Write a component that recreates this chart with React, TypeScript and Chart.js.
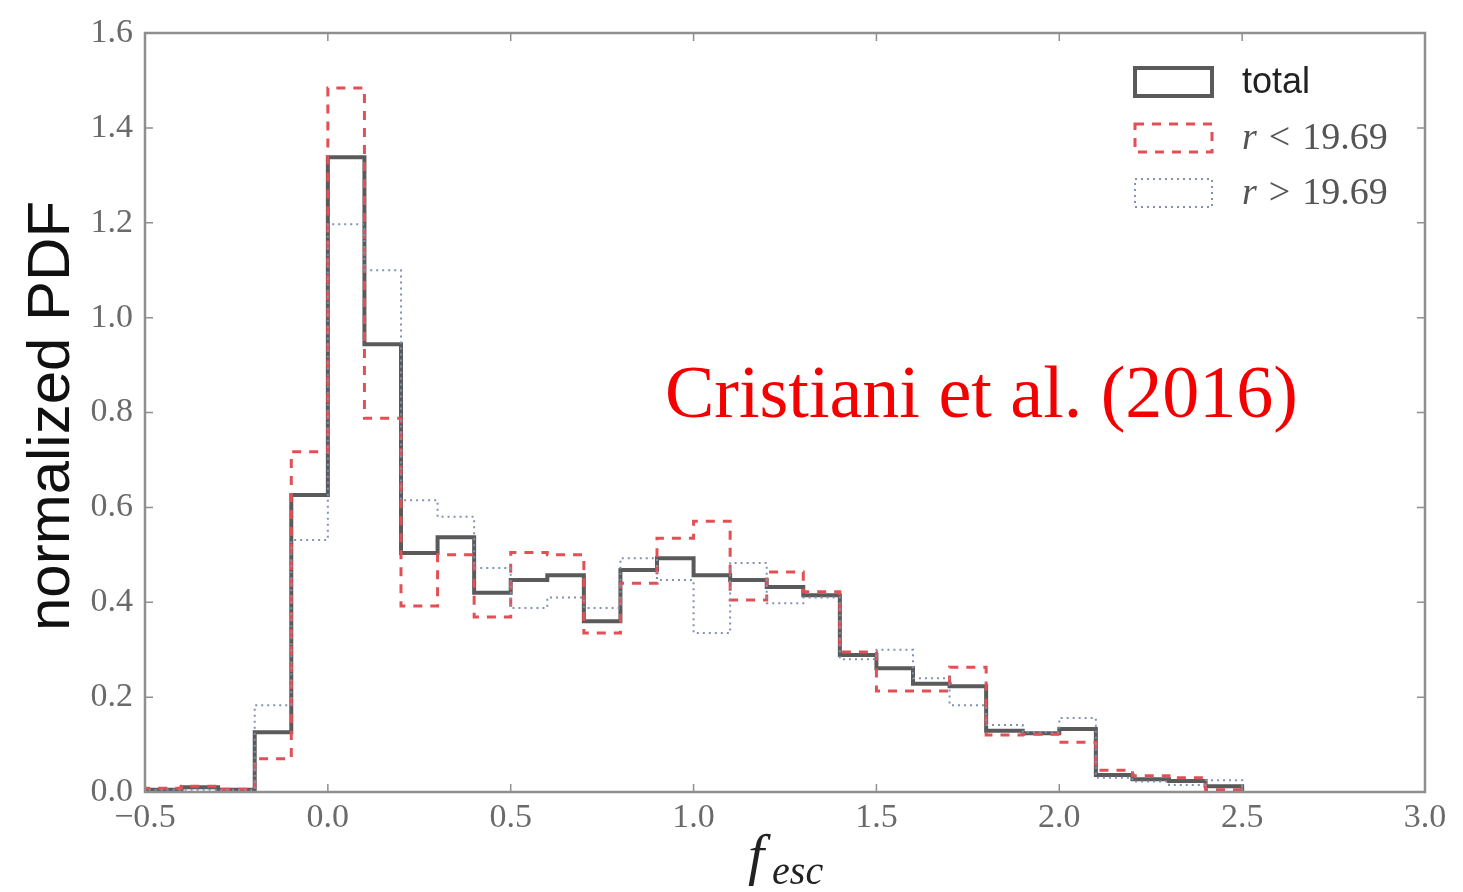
import React, { useEffect, useRef } from "react";
import { Chart, registerables } from "chart.js";

Chart.register(...registerables);

// Histogram bin edges (f_esc)
const binEdges = [
  -0.5, -0.4, -0.3, -0.2, -0.1, 0.0, 0.1, 0.2, 0.3, 0.4, 0.5, 0.6, 0.7, 0.8, 0.9,
  1.0, 1.1, 1.2, 1.3, 1.4, 1.5, 1.6, 1.7, 1.8, 1.9, 2.0, 2.1, 2.2, 2.3, 2.4, 2.5,
];

// Normalized PDF per bin
const totalValues = [
  0.005, 0.01, 0.005, 0.126, 0.626, 1.338, 0.944, 0.504, 0.537, 0.42, 0.447, 0.457,
  0.36, 0.468, 0.493, 0.457, 0.447, 0.432, 0.415, 0.289, 0.261, 0.228, 0.223, 0.129,
  0.124, 0.133, 0.036, 0.027, 0.023, 0.012,
];
const brightValues = [
  0.008, 0.012, 0.006, 0.07, 0.717, 1.484, 0.788, 0.392, 0.5, 0.369, 0.505, 0.5,
  0.335, 0.44, 0.535, 0.571, 0.405, 0.464, 0.422, 0.295, 0.213, 0.213, 0.263, 0.12,
  0.122, 0.105, 0.046, 0.034, 0.03, 0.005,
];
const faintValues = [
  0.005, 0.005, 0.004, 0.183, 0.531, 1.197, 1.1, 0.615, 0.58, 0.472, 0.388, 0.41,
  0.388, 0.493, 0.447, 0.335, 0.483, 0.398, 0.41, 0.28, 0.3, 0.24, 0.183, 0.141,
  0.126, 0.156, 0.03, 0.022, 0.015, 0.025,
];

const xTickValues = [-0.5, 0.0, 0.5, 1.0, 1.5, 2.0, 2.5, 3.0];
const xTickLabels = ["\u22120.5", "0.0", "0.5", "1.0", "1.5", "2.0", "2.5", "3.0"];
const yTickValues = [0.0, 0.2, 0.4, 0.6, 0.8, 1.0, 1.2, 1.4, 1.6];
const yTickLabels = ["0.0", "0.2", "0.4", "0.6", "0.8", "1.0", "1.2", "1.4", "1.6"];

const seriesLabels = ["total", "r < 19.69", "r > 19.69"];
const annotationText = "Cristiani et al. (2016)";

function stepPoints(values: number[]) {
  const pts: { x: number; y: number }[] = [{ x: binEdges[0], y: 0 }];
  values.forEach((v, i) => pts.push({ x: binEdges[i], y: v }));
  pts.push({ x: binEdges[binEdges.length - 1], y: 0 });
  return pts;
}

const FRAME = "#8f8f8f";

const decorPlugin = {
  id: "decor",
  afterDatasetsDraw(chart: any) {
    const { ctx, chartArea: a, scales } = chart;
    const x = scales.x;
    const y = scales.y;
    ctx.save();
    // frame
    ctx.strokeStyle = FRAME;
    ctx.lineWidth = 2.5;
    ctx.setLineDash([]);
    ctx.strokeRect(a.left, a.top, a.right - a.left, a.bottom - a.top);
    // inward ticks on all sides
    ctx.lineWidth = 1.5;
    const tl = 8;
    xTickValues.forEach((v) => {
      const px = x.getPixelForValue(v);
      ctx.beginPath();
      ctx.moveTo(px, a.bottom);
      ctx.lineTo(px, a.bottom - tl);
      ctx.moveTo(px, a.top);
      ctx.lineTo(px, a.top + tl);
      ctx.stroke();
    });
    yTickValues.forEach((v) => {
      const py = y.getPixelForValue(v);
      ctx.beginPath();
      ctx.moveTo(a.left, py);
      ctx.lineTo(a.left + tl, py);
      ctx.moveTo(a.right, py);
      ctx.lineTo(a.right - tl, py);
      ctx.stroke();
    });

    // legend
    const ds = chart.data.datasets;
    const hx = a.right - 290;
    const hw = 77;
    const hh = 28;
    const rowTops = [68, 124, 179];
    ds.forEach((d: any, i: number) => {
      const top = rowTops[i];
      ctx.save();
      ctx.fillStyle = "#ffffff";
      ctx.fillRect(hx, top, hw, hh);
      ctx.strokeStyle = d.borderColor;
      ctx.lineWidth = d.borderWidth;
      ctx.setLineDash(d.borderDash || []);
      ctx.strokeRect(hx, top, hw, hh);
      ctx.restore();
      const tx = a.right - 183;
      const ty = top + hh / 2 + 1;
      ctx.textBaseline = "middle";
      ctx.textAlign = "left";
      if (i === 0) {
        ctx.fillStyle = "#222";
        ctx.font = "36px 'Liberation Sans', Arial, sans-serif";
        ctx.fillText(d.label, tx, ty);
      } else {
        ctx.fillStyle = "#555";
        const parts = d.label.split(" ");
        ctx.font = "italic 38px 'Liberation Serif', serif";
        ctx.fillText(parts[0], tx, ty);
        let cx = tx + ctx.measureText(parts[0]).width + 12;
        ctx.font = "38px 'Liberation Serif', serif";
        ctx.fillText(parts[1], cx, ty);
        cx += ctx.measureText(parts[1]).width + 12;
        ctx.fillText(parts[2], cx, ty);
      }
    });

    // annotation
    ctx.fillStyle = "rgb(245,0,0)";
    ctx.textAlign = "left";
    ctx.textBaseline = "alphabetic";
    ctx.font = "74px 'Liberation Serif', 'Times New Roman', serif";
    ctx.fillText(annotationText, 665, 417);
    ctx.restore();
  },
  afterDraw(chart: any) {
    const { ctx } = chart;
    ctx.save();
    // y-axis title
    ctx.translate(52, 416);
    ctx.rotate(-Math.PI / 2);
    ctx.fillStyle = "#111";
    ctx.font = "60px 'Liberation Sans', Arial, sans-serif";
    ctx.textAlign = "center";
    ctx.textBaseline = "middle";
    ctx.fillText("normalized PDF", 0, 0);
    ctx.restore();

    // x-axis title: f_esc
    ctx.save();
    ctx.fillStyle = "#222";
    ctx.textAlign = "left";
    ctx.textBaseline = "alphabetic";
    ctx.font = "italic 58px 'Liberation Serif', serif";
    ctx.fillText("f", 748, 874);
    const fw = ctx.measureText("f").width;
    ctx.font = "italic 40px 'Liberation Serif', serif";
    ctx.fillText("esc", 748 + fw + 8, 884);
    ctx.restore();
  },
};

export default function App() {
  const ref = useRef<HTMLCanvasElement | null>(null);

  useEffect(() => {
    if (!ref.current) return;
    const chart = new Chart(ref.current, {
      type: "line",
      data: {
        datasets: [
          {
            label: seriesLabels[0],
            data: stepPoints(totalValues),
            borderColor: "#5a5a5a",
            borderWidth: 4,
            borderDash: [],
            stepped: "before",
            pointRadius: 0,
            fill: false,
            order: 3,
          },
          {
            label: seriesLabels[1],
            data: stepPoints(brightValues),
            borderColor: "rgb(225,80,85)",
            borderWidth: 3,
            borderDash: [9, 8],
            stepped: "before",
            pointRadius: 0,
            fill: false,
            order: 2,
          },
          {
            label: seriesLabels[2],
            data: stepPoints(faintValues),
            borderColor: "rgb(130,145,180)",
            borderWidth: 2,
            borderDash: [2, 4],
            stepped: "before",
            pointRadius: 0,
            fill: false,
            order: 1,
          },
        ] as any,
      },
      options: {
        animation: false,
        responsive: false,
        maintainAspectRatio: false,
        layout: { padding: { top: 33, right: 38, left: 0, bottom: 0 } },
        plugins: { legend: { display: false }, tooltip: { enabled: false } },
        scales: {
          x: {
            type: "linear",
            min: -0.5,
            max: 3.0,
            grid: { display: false, drawTicks: false },
            border: { display: false },
            afterBuildTicks: (s: any) => {
              s.ticks = xTickValues.map((v) => ({ value: v }));
            },
            afterFit: (s: any) => {
              s.height = 100;
            },
            ticks: {
              padding: 6,
              color: "#6a6a6a",
              font: { family: "'Liberation Serif', serif", size: 34 },
              maxRotation: 0,
              autoSkip: false,
              callback: (v: any) => {
                const i = xTickValues.findIndex((t) => Math.abs(t - Number(v)) < 1e-6);
                return i >= 0 ? xTickLabels[i] : "";
              },
            },
          },
          y: {
            type: "linear",
            min: 0,
            max: 1.6,
            grid: { display: false, drawTicks: false },
            border: { display: false },
            afterBuildTicks: (s: any) => {
              s.ticks = yTickValues.map((v) => ({ value: v }));
            },
            afterFit: (s: any) => {
              s.width = 145;
            },
            ticks: {
              padding: 12,
              color: "#6a6a6a",
              font: { family: "'Liberation Serif', serif", size: 34 },
              autoSkip: false,
              callback: (v: any) => {
                const i = yTickValues.findIndex((t) => Math.abs(t - Number(v)) < 1e-6);
                return i >= 0 ? yTickLabels[i] : "";
              },
            },
          },
        },
      } as any,
      plugins: [decorPlugin],
    });
    return () => chart.destroy();
  }, []);

  return (
    <div style={{ position: "fixed", left: 0, top: 0, width: 1463, height: 892, background: "#fff" }}>
      <canvas ref={ref} width={1463} height={892} style={{ display: "block" }} />
    </div>
  );
}
